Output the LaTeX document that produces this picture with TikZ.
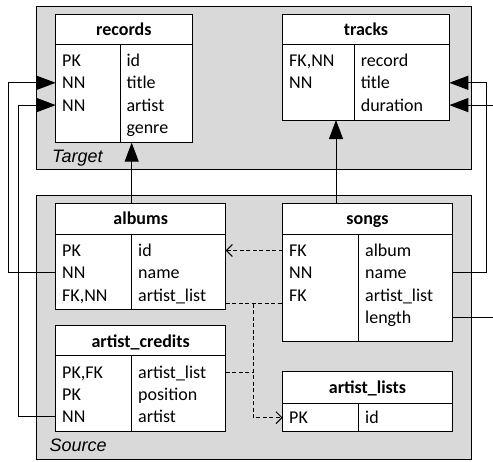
\documentclass[tikz,border=0pt]{standalone}
\usepackage{fontspec}
\setmainfont{Carlito}
\newfontfamily\lblfont{Liberation Sans}
\usetikzlibrary{arrows.meta}
\definecolor{areagray}{HTML}{D9D9D9}
\begin{document}
\begin{tikzpicture}[x=1pt,y=-1pt,line width=1pt,
  font=\fontsize{18}{22}\selectfont,
  area/.style={draw=black,fill=areagray,anchor=north west,inner sep=0,outer sep=0},
  tbl/.style={draw=black,fill=white,anchor=north west,inner sep=0,outer sep=0},
  hdr/.style={font=\fontsize{18}{22}\selectfont\bfseries,anchor=base,inner sep=0},
  cell/.style={anchor=base west,inner sep=0,text height=14pt,text depth=2pt},
  lbl/.style={font=\fontsize{18}{22}\selectfont\lblfont\itshape,anchor=base west,inner sep=0},
  conn/.style={draw=black,-{Triangle[length=19pt,width=14pt]}},
  dline/.style={draw=black,dash pattern=on 4pt off 2.5pt},
  dconn/.style={dline,-{Straight Barb[length=6pt,width=12pt]}}]
\clip (0,0) rectangle (493,461);
% areas
\node[area,minimum width=435pt,minimum height=162.3pt] (target) at (36.7,6.7) {};
\node[area,minimum width=435pt,minimum height=264.3pt] (source) at (36.7,195) {};
\node[lbl] (tlabel) at (51.7,162) {Target};
\node[lbl] (slabel) at (49,451.7) {Source};

% records
\node[tbl,minimum width=136.3pt,minimum height=128.4pt] (records) at (55.7,14.3) {};
\draw ([yshift=-29.7pt]records.north west) -- ([yshift=-29.7pt]records.north east);
\draw ([xshift=64.3pt,yshift=-29.7pt]records.north west) -- ([xshift=64.3pt]records.south west);
\node[hdr] (recH) at ([yshift=-21.5pt]records.north) {records};
\node[cell] (recK1) at (61.7,66.5) {PK};
\node[cell] (recK2) at (61.7,88.8) {NN};
\node[cell] (recK3) at (61.7,111.1) {NN};
\node[cell] (recV1) at (126,66.5) {id};
\node[cell] (recV2) at (126,88.8) {title};
\node[cell] (recV3) at (126,111.1) {artist};
\node[cell] (recV4) at (126,133.4) {genre};

% tracks
\node[tbl,minimum width=166.6pt,minimum height=105.7pt] (tracks) at (282.7,14.3) {};
\draw ([yshift=-29.7pt]tracks.north west) -- ([yshift=-29.7pt]tracks.north east);
\draw ([xshift=71.6pt,yshift=-29.7pt]tracks.north west) -- ([xshift=71.6pt]tracks.south west);
\node[hdr] (trH) at ([yshift=-21.5pt]tracks.north) {tracks};
\node[cell] (trK1) at (288.7,66.5) {FK,NN};
\node[cell] (trK2) at (288.7,88.8) {NN};
\node[cell] (trV1) at (360.3,66.5) {record};
\node[cell] (trV2) at (360.3,88.8) {title};
\node[cell] (trV3) at (360.3,111.1) {duration};

% albums
\node[tbl,minimum width=170pt,minimum height=105.7pt] (albums) at (55.7,203.3) {};
\draw ([yshift=-30.7pt]albums.north west) -- ([yshift=-30.7pt]albums.north east);
\draw ([xshift=76pt,yshift=-30.7pt]albums.north west) -- ([xshift=76pt]albums.south west);
\node[hdr] (albH) at ([yshift=-21.5pt]albums.north) {albums};
\node[cell] (albK1) at (61.7,256.5) {PK};
\node[cell] (albK2) at (61.7,278.8) {NN};
\node[cell] (albK3) at (61.7,301.1) {FK,NN};
\node[cell] (albV1) at (137.7,256.5) {id};
\node[cell] (albV2) at (137.7,278.8) {name};
\node[cell] (albV3) at (137.7,301.1) {artist\_list};

% artist_credits
\node[tbl,minimum width=170pt,minimum height=105.3pt] (credits) at (55.7,325.7) {};
\draw ([yshift=-30pt]credits.north west) -- ([yshift=-30pt]credits.north east);
\draw ([xshift=76pt,yshift=-30pt]credits.north west) -- ([xshift=76pt]credits.south west);
\node[hdr] (acH) at ([yshift=-21.5pt]credits.north) {artist\_credits};
\node[cell] (acK1) at (61.7,378.2) {PK,FK};
\node[cell] (acK2) at (61.7,400.5) {PK};
\node[cell] (acK3) at (61.7,422.8) {NN};
\node[cell] (acV1) at (137.7,378.2) {artist\_list};
\node[cell] (acV2) at (137.7,400.5) {position};
\node[cell] (acV3) at (137.7,422.8) {artist};

% songs
\node[tbl,minimum width=169.6pt,minimum height=137.7pt] (songs) at (282.7,203.3) {};
\draw ([yshift=-30.7pt]songs.north west) -- ([yshift=-30.7pt]songs.north east);
\draw ([xshift=76pt,yshift=-30.7pt]songs.north west) -- ([xshift=76pt]songs.south west);
\node[hdr] (sgH) at ([yshift=-21.5pt]songs.north) {songs};
\node[cell] (sgK1) at (288.7,256.5) {FK};
\node[cell] (sgK2) at (288.7,278.8) {NN};
\node[cell] (sgK3) at (288.7,301.1) {FK};
\node[cell] (sgV1) at (364.7,256.5) {album};
\node[cell] (sgV2) at (364.7,278.8) {name};
\node[cell] (sgV3) at (364.7,301.1) {artist\_list};
\node[cell] (sgV4) at (364.7,323.4) {length};

% artist_lists
\node[tbl,minimum width=169.6pt,minimum height=59.3pt] (lists) at (282.7,371.7) {};
\draw ([yshift=-31.6pt]lists.north west) -- ([yshift=-31.6pt]lists.north east);
\draw ([xshift=76pt,yshift=-31.6pt]lists.north west) -- ([xshift=76pt]lists.south west);
\node[hdr] (alH) at ([yshift=-21.5pt]lists.north) {artist\_lists};
\node[cell] (alK1) at (288.7,423.7) {PK};
\node[cell] (alV1) at (364.7,423.7) {id};

% solid connectors
\draw[conn] (albK2.west -| albums.west) -- ++(-47.4,0) |- (recK2.west -| records.west);
\draw[conn] (acK3.west -| credits.west) -- ++(-37.4,0) |- (recK3.west -| records.west);
\draw[conn] (sgV2.west -| songs.east) -- ++(33.7,0) |- (trV2.west -| tracks.east);
\draw[conn] (sgV4.west -| songs.east) -- ++(45,0) |- (trV3.west -| tracks.east);
\draw[conn] ([xshift=76pt]albums.north west) -- ([xshift=76pt]albums.north west |- records.south);
\draw[conn] ([xshift=53.3pt]songs.north west) -- ([xshift=53.3pt]songs.north west |- tracks.south);

% dashed connectors
\coordinate (jn) at (253.3,0);
\draw[dconn] (sgK1.west -| songs.west) -- (albV1.west -| albums.east);
\draw[dline] (albV3.south -| albums.east) -- (albV3.south -| songs.west);
\draw[dline] (acV1.west -| credits.east) -- (jn |- acV1.west);
\draw[dconn] (jn |- albV3.south) |- (alK1.west -| lists.west);
\end{tikzpicture}
\end{document}
